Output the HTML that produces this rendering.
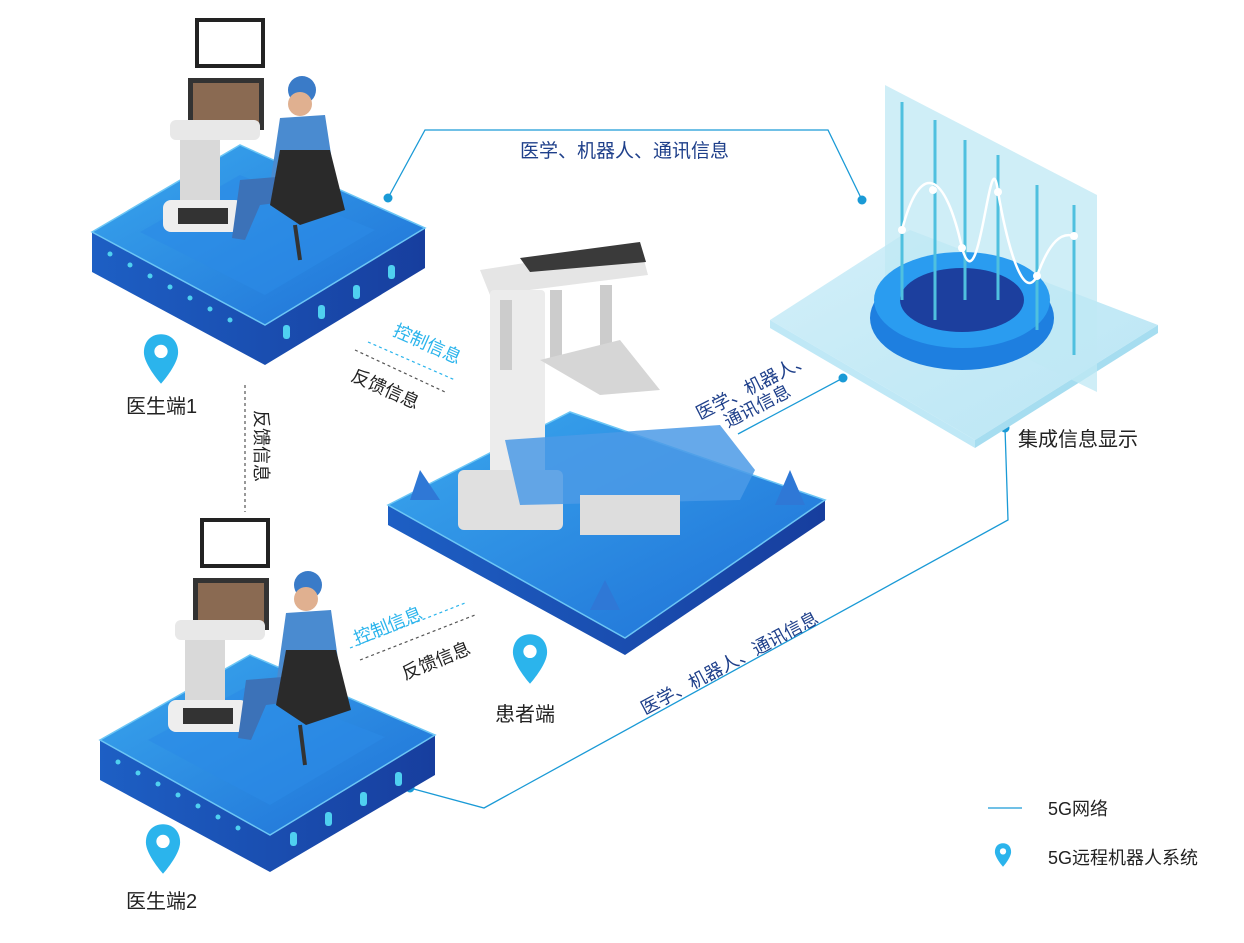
<!DOCTYPE html>
<html><head><meta charset="utf-8">
<style>
html,body{margin:0;padding:0;background:#fff;}
svg{display:block;}
text{font-family:"Liberation Sans","Noto Sans CJK SC",sans-serif;}
</style></head><body>
<svg width="1244" height="943" viewBox="0 0 1244 943" xmlns="http://www.w3.org/2000/svg">
<defs>
<linearGradient id="top" x1="0" y1="0" x2="1" y2="1">
<stop offset="0" stop-color="#3aa8ee"/><stop offset="1" stop-color="#1e6fd6"/></linearGradient>
<linearGradient id="side" x1="0" y1="0" x2="1" y2="0">
<stop offset="0" stop-color="#1d5fc4"/><stop offset="1" stop-color="#173e9e"/></linearGradient>
<linearGradient id="glass" x1="0" y1="0" x2="1" y2="1">
<stop offset="0" stop-color="#cfeef8" stop-opacity="0.9"/><stop offset="1" stop-color="#9fdcf0" stop-opacity="0.7"/></linearGradient>
<symbol id="pin" viewBox="0 0 40 56">
<path d="M20 2C9 2 2 10 2 21c0 13 18 33 18 33s18-20 18-33C38 10 31 2 20 2z" fill="#2bb4ec"/>
<circle cx="20" cy="20" r="7" fill="#fff"/></symbol>
</defs>

<g stroke="#1a9ad6" stroke-width="1.3" fill="none">
<polyline points="388,198 425,130 828,130 862,200"/>
<line x1="843" y1="378" x2="738" y2="434"/>
<polyline points="1005,428 1008,520 484,808 410,788"/>
</g>
<g fill="#1a9ad6"><circle cx="388" cy="198" r="4.5"/><circle cx="862" cy="200" r="4.5"/>
<circle cx="843" cy="378" r="4.5"/><circle cx="1005" cy="428" r="4.5"/><circle cx="410" cy="788" r="4.5"/></g>

<polygon points="770,320 910,230 1158,325 975,440" fill="url(#glass)"/>
<polygon points="770,320 975,440 975,448 770,328" fill="#bfe8f6"/>
<polygon points="975,440 1158,325 1158,333 975,448" fill="#a6ddf0"/>
<polygon points="885,85 1097,195 1097,392 885,290" fill="#bfe8f4" opacity="0.75"/>
<ellipse cx="962" cy="318" rx="92" ry="52" fill="#1e7fe0"/>
<ellipse cx="962" cy="300" rx="88" ry="48" fill="#2a9cf0"/>
<ellipse cx="962" cy="300" rx="62" ry="32" fill="#1c3f9e"/>
<g stroke="#4fc0df" stroke-width="3"><line x1="902" y1="102" x2="902" y2="300"/><line x1="935" y1="120" x2="935" y2="320"/><line x1="965" y1="140" x2="965" y2="300"/><line x1="998" y1="155" x2="998" y2="300"/><line x1="1037" y1="185" x2="1037" y2="330"/><line x1="1074" y1="205" x2="1074" y2="355"/></g>
<path d="M902,230 C920,160 945,170 962,248 C980,310 990,130 998,192 C1010,260 1025,300 1037,276 C1050,240 1062,232 1074,236" stroke="#fff" stroke-width="2.5" fill="none"/>
<g fill="#fff"><circle cx="902" cy="230" r="4"/><circle cx="962" cy="248" r="4"/><circle cx="998" cy="192" r="4"/><circle cx="1037" cy="276" r="4"/><circle cx="1074" cy="236" r="4"/><circle cx="933" cy="190" r="4"/></g>

<!-- platform 1 -->
<polygon points="92,232 92,272 265,365 425,268 425,228 265,325" fill="url(#side)"/>
<polygon points="92,232 240,145 425,228 265,325" fill="url(#top)" stroke="#6cc6f5" stroke-width="1.5"/>
<polygon points="140,232 240,175 375,230 265,295" fill="#2b8be6" opacity="0.6"/>
<g fill="#4fd0f0"><circle cx="110" cy="254" r="2.5"/><circle cx="130" cy="265" r="2.5"/><circle cx="150" cy="276" r="2.5"/><circle cx="170" cy="287" r="2.5"/><circle cx="190" cy="298" r="2.5"/><circle cx="210" cy="309" r="2.5"/><circle cx="230" cy="320" r="2.5"/></g>
<g fill="#4fd0f0"><rect x="283" y="325" width="7" height="14" rx="3"/><rect x="318" y="305" width="7" height="14" rx="3"/><rect x="353" y="285" width="7" height="14" rx="3"/><rect x="388" y="265" width="7" height="14" rx="3"/></g>
<rect x="195" y="18" width="70" height="50" fill="#222"/><rect x="199" y="22" width="62" height="42" fill="#fff"/>
<rect x="188" y="78" width="76" height="52" fill="#333"/><rect x="193" y="83" width="66" height="42" fill="#8a6a52"/>
<rect x="170" y="120" width="90" height="20" rx="6" fill="#e8e8e8"/>
<rect x="180" y="140" width="40" height="60" fill="#d9d9d9"/>
<rect x="163" y="200" width="80" height="32" rx="8" fill="#eee"/><rect x="178" y="208" width="50" height="16" fill="#333"/>
<circle cx="302" cy="90" r="14" fill="#3a7bc8"/><circle cx="300" cy="104" r="12" fill="#e0b090"/>
<path d="M280,118 L325,115 335,180 270,185z" fill="#4a8bd0"/>
<path d="M240,180 L300,175 300,200 260,205 245,240 232,238z" fill="#3c72b8"/>
<path d="M280,150 L330,150 345,210 300,225 270,205z" fill="#2a2a2a"/>
<line x1="295" y1="225" x2="300" y2="260" stroke="#333" stroke-width="4"/>
<!-- platform 2 -->
<polygon points="100,740 100,780 270,872 435,775 435,735 270,835" fill="url(#side)"/>
<polygon points="100,740 250,655 435,735 270,835" fill="url(#top)" stroke="#6cc6f5" stroke-width="1.5"/>
<polygon points="148,740 250,685 385,737 270,805" fill="#2b8be6" opacity="0.6"/>
<g fill="#4fd0f0"><circle cx="118" cy="762" r="2.5"/><circle cx="138" cy="773" r="2.5"/><circle cx="158" cy="784" r="2.5"/><circle cx="178" cy="795" r="2.5"/><circle cx="198" cy="806" r="2.5"/><circle cx="218" cy="817" r="2.5"/><circle cx="238" cy="828" r="2.5"/></g>
<g fill="#4fd0f0"><rect x="290" y="832" width="7" height="14" rx="3"/><rect x="325" y="812" width="7" height="14" rx="3"/><rect x="360" y="792" width="7" height="14" rx="3"/><rect x="395" y="772" width="7" height="14" rx="3"/></g>
<rect x="200" y="518" width="70" height="50" fill="#222"/><rect x="204" y="522" width="62" height="42" fill="#fff"/>
<rect x="193" y="578" width="76" height="52" fill="#333"/><rect x="198" y="583" width="66" height="42" fill="#8a6a52"/>
<rect x="175" y="620" width="90" height="20" rx="6" fill="#e8e8e8"/>
<rect x="185" y="640" width="40" height="60" fill="#d9d9d9"/>
<rect x="168" y="700" width="80" height="32" rx="8" fill="#eee"/><rect x="183" y="708" width="50" height="16" fill="#333"/>
<circle cx="308" cy="585" r="14" fill="#3a7bc8"/><circle cx="306" cy="599" r="12" fill="#e0b090"/>
<path d="M286,613 L331,610 341,680 276,685z" fill="#4a8bd0"/>
<path d="M246,680 L306,675 306,700 266,705 251,740 238,738z" fill="#3c72b8"/>
<path d="M286,650 L336,650 351,710 306,725 276,705z" fill="#2a2a2a"/>
<line x1="300" y1="725" x2="305" y2="765" stroke="#333" stroke-width="4"/>

<!-- patient platform -->
<polygon points="388,505 388,525 625,655 825,520 825,500 625,638" fill="url(#side)"/>
<polygon points="388,505 570,412 825,500 625,638" fill="url(#top)" stroke="#6cc6f5" stroke-width="1.5"/>
<path d="M480,270 L640,245 648,275 490,295z" fill="#e5e5e5"/>
<path d="M520,258 L640,242 646,262 530,272z" fill="#3a3a3a"/>
<rect x="490" y="290" width="55" height="210" rx="4" fill="#ececec"/>
<rect x="458" y="470" width="105" height="60" rx="6" fill="#e0e0e0"/>
<rect x="500" y="300" width="12" height="70" fill="#ccc"/><rect x="550" y="290" width="12" height="70" fill="#ccc"/><rect x="600" y="285" width="12" height="70" fill="#ccc"/>
<path d="M540,360 L620,340 660,390 600,395z" fill="#d6d6d6"/>
<path d="M505,440 L720,425 755,470 740,500 520,505z" fill="#4b9ae6" opacity="0.85"/>
<rect x="580" y="495" width="100" height="40" fill="#ddd"/>
<polygon points="420,470 410,500 440,500" fill="#2f78d6"/>
<polygon points="790,470 775,505 805,505" fill="#2f78d6"/>
<polygon points="605,580 590,610 620,610" fill="#2f78d6"/>

<g stroke-width="1.2" stroke-dasharray="3,3" fill="none">
<line x1="368" y1="342" x2="455" y2="380" stroke="#2bb4ec"/>
<line x1="355" y1="350" x2="445" y2="392" stroke="#555"/>
<line x1="245" y1="385" x2="245" y2="512" stroke="#555"/>
<line x1="350" y1="648" x2="465" y2="603" stroke="#2bb4ec"/>
<line x1="360" y1="660" x2="475" y2="615" stroke="#555"/>
</g>

<use href="#pin" x="142" y="330" width="38" height="58"/>
<use href="#pin" x="144" y="820" width="38" height="58"/>
<use href="#pin" x="511" y="630" width="38" height="58"/>
<use href="#pin" x="994" y="842" width="18" height="26"/>
<line x1="988" y1="808" x2="1022" y2="808" stroke="#1a9ad6" stroke-width="1.3"/>

<g font-size="20" fill="#222">
<text x="126" y="413">医生端1</text>
<text x="126" y="908">医生端2</text>
<text x="495" y="721">患者端</text>
<text x="1018" y="446">集成信息显示</text>
</g>
<g font-size="18" fill="#222">
<text x="1048" y="815">5G网络</text>
<text x="1048" y="864">5G远程机器人系统</text>
</g>
<text x="520" y="157" font-size="19" fill="#1e3f8a">医学、机器人、通讯信息</text>
<text font-size="18" fill="#1e3f8a" transform="translate(700,420) rotate(-27)">医学、机器人、</text>
<text font-size="18" fill="#1e3f8a" transform="translate(728,428) rotate(-27)">通讯信息</text>
<text font-size="18" fill="#1e3f8a" transform="translate(645,715) rotate(-28)">医学、机器人、通讯信息</text>
<text font-size="18" fill="#2bb4ec" transform="translate(392,335) rotate(24)">控制信息</text>
<text font-size="18" fill="#222" transform="translate(350,380) rotate(24)">反馈信息</text>
<text font-size="18" fill="#222" transform="translate(255,410) rotate(90)">反馈信息</text>
<text font-size="18" fill="#2bb4ec" transform="translate(357,645) rotate(-22)">控制信息</text>
<text font-size="18" fill="#222" transform="translate(405,680) rotate(-22)">反馈信息</text>
</svg>
</body></html>
